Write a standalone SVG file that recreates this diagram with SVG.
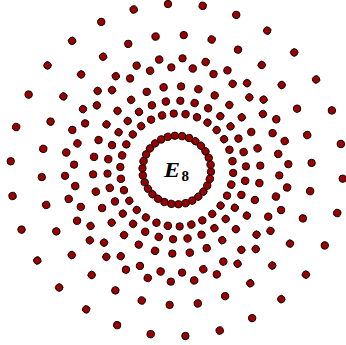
<svg xmlns="http://www.w3.org/2000/svg" width="346" height="345" viewBox="0 0 346 345">
<style>
.d circle{fill:#990000;stroke:#000;stroke-width:0.9}
.lbl{font-family:"Liberation Serif","DejaVu Serif",serif;fill:#000}
</style>
<rect width="346" height="345" fill="#fff"/>
<g class="d" transform="translate(176.7 170)">
<g id="ring1">
<circle cx="34.3" cy="0" r="3.7" transform="rotate(3)"/><circle cx="34.3" cy="0" r="3.7" transform="rotate(15)"/><circle cx="34.3" cy="0" r="3.7" transform="rotate(27)"/><circle cx="34.3" cy="0" r="3.7" transform="rotate(39)"/><circle cx="34.3" cy="0" r="3.7" transform="rotate(51)"/><circle cx="34.3" cy="0" r="3.7" transform="rotate(63)"/><circle cx="34.3" cy="0" r="3.7" transform="rotate(75)"/><circle cx="34.3" cy="0" r="3.7" transform="rotate(87)"/><circle cx="34.3" cy="0" r="3.7" transform="rotate(99)"/><circle cx="34.3" cy="0" r="3.7" transform="rotate(111)"/><circle cx="34.3" cy="0" r="3.7" transform="rotate(123)"/><circle cx="34.3" cy="0" r="3.7" transform="rotate(135)"/><circle cx="34.3" cy="0" r="3.7" transform="rotate(147)"/><circle cx="34.3" cy="0" r="3.7" transform="rotate(159)"/><circle cx="34.3" cy="0" r="3.7" transform="rotate(171)"/><circle cx="34.3" cy="0" r="3.7" transform="rotate(183)"/><circle cx="34.3" cy="0" r="3.7" transform="rotate(195)"/><circle cx="34.3" cy="0" r="3.7" transform="rotate(207)"/><circle cx="34.3" cy="0" r="3.7" transform="rotate(219)"/><circle cx="34.3" cy="0" r="3.7" transform="rotate(231)"/><circle cx="34.3" cy="0" r="3.7" transform="rotate(243)"/><circle cx="34.3" cy="0" r="3.7" transform="rotate(255)"/><circle cx="34.3" cy="0" r="3.7" transform="rotate(267)"/><circle cx="34.3" cy="0" r="3.7" transform="rotate(279)"/><circle cx="34.3" cy="0" r="3.7" transform="rotate(291)"/><circle cx="34.3" cy="0" r="3.7" transform="rotate(303)"/><circle cx="34.3" cy="0" r="3.7" transform="rotate(315)"/><circle cx="34.3" cy="0" r="3.7" transform="rotate(327)"/><circle cx="34.3" cy="0" r="3.7" transform="rotate(339)"/><circle cx="34.3" cy="0" r="3.7" transform="rotate(351)"/>
</g>
<g id="ring2">
<circle cx="56.5" cy="0" r="3.7" transform="rotate(3)"/><circle cx="56.5" cy="0" r="3.7" transform="rotate(15)"/><circle cx="56.5" cy="0" r="3.7" transform="rotate(27)"/><circle cx="56.5" cy="0" r="3.7" transform="rotate(39)"/><circle cx="56.5" cy="0" r="3.7" transform="rotate(51)"/><circle cx="56.5" cy="0" r="3.7" transform="rotate(63)"/><circle cx="56.5" cy="0" r="3.7" transform="rotate(75)"/><circle cx="56.5" cy="0" r="3.7" transform="rotate(87)"/><circle cx="56.5" cy="0" r="3.7" transform="rotate(99)"/><circle cx="56.5" cy="0" r="3.7" transform="rotate(111)"/><circle cx="56.5" cy="0" r="3.7" transform="rotate(123)"/><circle cx="56.5" cy="0" r="3.7" transform="rotate(135)"/><circle cx="56.5" cy="0" r="3.7" transform="rotate(147)"/><circle cx="56.5" cy="0" r="3.7" transform="rotate(159)"/><circle cx="56.5" cy="0" r="3.7" transform="rotate(171)"/><circle cx="56.5" cy="0" r="3.7" transform="rotate(183)"/><circle cx="56.5" cy="0" r="3.7" transform="rotate(195)"/><circle cx="56.5" cy="0" r="3.7" transform="rotate(207)"/><circle cx="56.5" cy="0" r="3.7" transform="rotate(219)"/><circle cx="56.5" cy="0" r="3.7" transform="rotate(231)"/><circle cx="56.5" cy="0" r="3.7" transform="rotate(243)"/><circle cx="56.5" cy="0" r="3.7" transform="rotate(255)"/><circle cx="56.5" cy="0" r="3.7" transform="rotate(267)"/><circle cx="56.5" cy="0" r="3.7" transform="rotate(279)"/><circle cx="56.5" cy="0" r="3.7" transform="rotate(291)"/><circle cx="56.5" cy="0" r="3.7" transform="rotate(303)"/><circle cx="56.5" cy="0" r="3.7" transform="rotate(315)"/><circle cx="56.5" cy="0" r="3.7" transform="rotate(327)"/><circle cx="56.5" cy="0" r="3.7" transform="rotate(339)"/><circle cx="56.5" cy="0" r="3.7" transform="rotate(351)"/>
</g>
<g id="ring3">
<circle cx="69.3" cy="0" r="3.7" transform="rotate(9)"/><circle cx="69.3" cy="0" r="3.7" transform="rotate(21)"/><circle cx="69.3" cy="0" r="3.7" transform="rotate(33)"/><circle cx="69.3" cy="0" r="3.7" transform="rotate(45)"/><circle cx="69.3" cy="0" r="3.7" transform="rotate(57)"/><circle cx="69.3" cy="0" r="3.7" transform="rotate(69)"/><circle cx="69.3" cy="0" r="3.7" transform="rotate(81)"/><circle cx="69.3" cy="0" r="3.7" transform="rotate(93)"/><circle cx="69.3" cy="0" r="3.7" transform="rotate(105)"/><circle cx="69.3" cy="0" r="3.7" transform="rotate(117)"/><circle cx="69.3" cy="0" r="3.7" transform="rotate(129)"/><circle cx="69.3" cy="0" r="3.7" transform="rotate(141)"/><circle cx="69.3" cy="0" r="3.7" transform="rotate(153)"/><circle cx="69.3" cy="0" r="3.7" transform="rotate(165)"/><circle cx="69.3" cy="0" r="3.7" transform="rotate(177)"/><circle cx="69.3" cy="0" r="3.7" transform="rotate(189)"/><circle cx="69.3" cy="0" r="3.7" transform="rotate(201)"/><circle cx="69.3" cy="0" r="3.7" transform="rotate(213)"/><circle cx="69.3" cy="0" r="3.7" transform="rotate(225)"/><circle cx="69.3" cy="0" r="3.7" transform="rotate(237)"/><circle cx="69.3" cy="0" r="3.7" transform="rotate(249)"/><circle cx="69.3" cy="0" r="3.7" transform="rotate(261)"/><circle cx="69.3" cy="0" r="3.7" transform="rotate(273)"/><circle cx="69.3" cy="0" r="3.7" transform="rotate(285)"/><circle cx="69.3" cy="0" r="3.7" transform="rotate(297)"/><circle cx="69.3" cy="0" r="3.7" transform="rotate(309)"/><circle cx="69.3" cy="0" r="3.7" transform="rotate(321)"/><circle cx="69.3" cy="0" r="3.7" transform="rotate(333)"/><circle cx="69.3" cy="0" r="3.7" transform="rotate(345)"/><circle cx="69.3" cy="0" r="3.7" transform="rotate(357)"/>
</g>
<g id="ring4">
<circle cx="83.7" cy="0" r="3.7" transform="rotate(9)"/><circle cx="83.7" cy="0" r="3.7" transform="rotate(21)"/><circle cx="83.7" cy="0" r="3.7" transform="rotate(33)"/><circle cx="83.7" cy="0" r="3.7" transform="rotate(45)"/><circle cx="83.7" cy="0" r="3.7" transform="rotate(57)"/><circle cx="83.7" cy="0" r="3.7" transform="rotate(69)"/><circle cx="83.7" cy="0" r="3.7" transform="rotate(81)"/><circle cx="83.7" cy="0" r="3.7" transform="rotate(93)"/><circle cx="83.7" cy="0" r="3.7" transform="rotate(105)"/><circle cx="83.7" cy="0" r="3.7" transform="rotate(117)"/><circle cx="83.7" cy="0" r="3.7" transform="rotate(129)"/><circle cx="83.7" cy="0" r="3.7" transform="rotate(141)"/><circle cx="83.7" cy="0" r="3.7" transform="rotate(153)"/><circle cx="83.7" cy="0" r="3.7" transform="rotate(165)"/><circle cx="83.7" cy="0" r="3.7" transform="rotate(177)"/><circle cx="83.7" cy="0" r="3.7" transform="rotate(189)"/><circle cx="83.7" cy="0" r="3.7" transform="rotate(201)"/><circle cx="83.7" cy="0" r="3.7" transform="rotate(213)"/><circle cx="83.7" cy="0" r="3.7" transform="rotate(225)"/><circle cx="83.7" cy="0" r="3.7" transform="rotate(237)"/><circle cx="83.7" cy="0" r="3.7" transform="rotate(249)"/><circle cx="83.7" cy="0" r="3.7" transform="rotate(261)"/><circle cx="83.7" cy="0" r="3.7" transform="rotate(273)"/><circle cx="83.7" cy="0" r="3.7" transform="rotate(285)"/><circle cx="83.7" cy="0" r="3.7" transform="rotate(297)"/><circle cx="83.7" cy="0" r="3.7" transform="rotate(309)"/><circle cx="83.7" cy="0" r="3.7" transform="rotate(321)"/><circle cx="83.7" cy="0" r="3.7" transform="rotate(333)"/><circle cx="83.7" cy="0" r="3.7" transform="rotate(345)"/><circle cx="83.7" cy="0" r="3.7" transform="rotate(357)"/>
</g>
<g id="ring5">
<circle cx="102.75" cy="0" r="3.7" transform="rotate(3)"/><circle cx="102.75" cy="0" r="3.7" transform="rotate(15)"/><circle cx="102.75" cy="0" r="3.7" transform="rotate(27)"/><circle cx="102.75" cy="0" r="3.7" transform="rotate(39)"/><circle cx="102.75" cy="0" r="3.7" transform="rotate(51)"/><circle cx="102.75" cy="0" r="3.7" transform="rotate(63)"/><circle cx="102.75" cy="0" r="3.7" transform="rotate(75)"/><circle cx="102.75" cy="0" r="3.7" transform="rotate(87)"/><circle cx="102.75" cy="0" r="3.7" transform="rotate(99)"/><circle cx="102.75" cy="0" r="3.7" transform="rotate(111)"/><circle cx="102.75" cy="0" r="3.7" transform="rotate(123)"/><circle cx="102.75" cy="0" r="3.7" transform="rotate(135)"/><circle cx="102.75" cy="0" r="3.7" transform="rotate(147)"/><circle cx="102.75" cy="0" r="3.7" transform="rotate(159)"/><circle cx="102.75" cy="0" r="3.7" transform="rotate(171)"/><circle cx="102.75" cy="0" r="3.7" transform="rotate(183)"/><circle cx="102.75" cy="0" r="3.7" transform="rotate(195)"/><circle cx="102.75" cy="0" r="3.7" transform="rotate(207)"/><circle cx="102.75" cy="0" r="3.7" transform="rotate(219)"/><circle cx="102.75" cy="0" r="3.7" transform="rotate(231)"/><circle cx="102.75" cy="0" r="3.7" transform="rotate(243)"/><circle cx="102.75" cy="0" r="3.7" transform="rotate(255)"/><circle cx="102.75" cy="0" r="3.7" transform="rotate(267)"/><circle cx="102.75" cy="0" r="3.7" transform="rotate(279)"/><circle cx="102.75" cy="0" r="3.7" transform="rotate(291)"/><circle cx="102.75" cy="0" r="3.7" transform="rotate(303)"/><circle cx="102.75" cy="0" r="3.7" transform="rotate(315)"/><circle cx="102.75" cy="0" r="3.7" transform="rotate(327)"/><circle cx="102.75" cy="0" r="3.7" transform="rotate(339)"/><circle cx="102.75" cy="0" r="3.7" transform="rotate(351)"/>
</g>
<g id="ring6">
<circle cx="111.8" cy="0" r="3.7" transform="rotate(9)"/><circle cx="111.8" cy="0" r="3.7" transform="rotate(21)"/><circle cx="111.8" cy="0" r="3.7" transform="rotate(33)"/><circle cx="111.8" cy="0" r="3.7" transform="rotate(45)"/><circle cx="111.8" cy="0" r="3.7" transform="rotate(57)"/><circle cx="111.8" cy="0" r="3.7" transform="rotate(69)"/><circle cx="111.8" cy="0" r="3.7" transform="rotate(81)"/><circle cx="111.8" cy="0" r="3.7" transform="rotate(93)"/><circle cx="111.8" cy="0" r="3.7" transform="rotate(105)"/><circle cx="111.8" cy="0" r="3.7" transform="rotate(117)"/><circle cx="111.8" cy="0" r="3.7" transform="rotate(129)"/><circle cx="111.8" cy="0" r="3.7" transform="rotate(141)"/><circle cx="111.8" cy="0" r="3.7" transform="rotate(153)"/><circle cx="111.8" cy="0" r="3.7" transform="rotate(165)"/><circle cx="111.8" cy="0" r="3.7" transform="rotate(177)"/><circle cx="111.8" cy="0" r="3.7" transform="rotate(189)"/><circle cx="111.8" cy="0" r="3.7" transform="rotate(201)"/><circle cx="111.8" cy="0" r="3.7" transform="rotate(213)"/><circle cx="111.8" cy="0" r="3.7" transform="rotate(225)"/><circle cx="111.8" cy="0" r="3.7" transform="rotate(237)"/><circle cx="111.8" cy="0" r="3.7" transform="rotate(249)"/><circle cx="111.8" cy="0" r="3.7" transform="rotate(261)"/><circle cx="111.8" cy="0" r="3.7" transform="rotate(273)"/><circle cx="111.8" cy="0" r="3.7" transform="rotate(285)"/><circle cx="111.8" cy="0" r="3.7" transform="rotate(297)"/><circle cx="111.8" cy="0" r="3.7" transform="rotate(309)"/><circle cx="111.8" cy="0" r="3.7" transform="rotate(321)"/><circle cx="111.8" cy="0" r="3.7" transform="rotate(333)"/><circle cx="111.8" cy="0" r="3.7" transform="rotate(345)"/><circle cx="111.8" cy="0" r="3.7" transform="rotate(357)"/>
</g>
<g id="ring7">
<circle cx="135.1" cy="0" r="3.7" transform="rotate(9)"/><circle cx="135.1" cy="0" r="3.7" transform="rotate(21)"/><circle cx="135.1" cy="0" r="3.7" transform="rotate(33)"/><circle cx="135.1" cy="0" r="3.7" transform="rotate(45)"/><circle cx="135.1" cy="0" r="3.7" transform="rotate(57)"/><circle cx="135.1" cy="0" r="3.7" transform="rotate(69)"/><circle cx="135.1" cy="0" r="3.7" transform="rotate(81)"/><circle cx="135.1" cy="0" r="3.7" transform="rotate(93)"/><circle cx="135.1" cy="0" r="3.7" transform="rotate(105)"/><circle cx="135.1" cy="0" r="3.7" transform="rotate(117)"/><circle cx="135.1" cy="0" r="3.7" transform="rotate(129)"/><circle cx="135.1" cy="0" r="3.7" transform="rotate(141)"/><circle cx="135.1" cy="0" r="3.7" transform="rotate(153)"/><circle cx="135.1" cy="0" r="3.7" transform="rotate(165)"/><circle cx="135.1" cy="0" r="3.7" transform="rotate(177)"/><circle cx="135.1" cy="0" r="3.7" transform="rotate(189)"/><circle cx="135.1" cy="0" r="3.7" transform="rotate(201)"/><circle cx="135.1" cy="0" r="3.7" transform="rotate(213)"/><circle cx="135.1" cy="0" r="3.7" transform="rotate(225)"/><circle cx="135.1" cy="0" r="3.7" transform="rotate(237)"/><circle cx="135.1" cy="0" r="3.7" transform="rotate(249)"/><circle cx="135.1" cy="0" r="3.7" transform="rotate(261)"/><circle cx="135.1" cy="0" r="3.7" transform="rotate(273)"/><circle cx="135.1" cy="0" r="3.7" transform="rotate(285)"/><circle cx="135.1" cy="0" r="3.7" transform="rotate(297)"/><circle cx="135.1" cy="0" r="3.7" transform="rotate(309)"/><circle cx="135.1" cy="0" r="3.7" transform="rotate(321)"/><circle cx="135.1" cy="0" r="3.7" transform="rotate(333)"/><circle cx="135.1" cy="0" r="3.7" transform="rotate(345)"/><circle cx="135.1" cy="0" r="3.7" transform="rotate(357)"/>
</g>
<g id="ring8">
<circle cx="166.2" cy="0" r="3.7" transform="rotate(3)"/><circle cx="166.2" cy="0" r="3.7" transform="rotate(15)"/><circle cx="166.2" cy="0" r="3.7" transform="rotate(27)"/><circle cx="166.2" cy="0" r="3.7" transform="rotate(39)"/><circle cx="166.2" cy="0" r="3.7" transform="rotate(51)"/><circle cx="166.2" cy="0" r="3.7" transform="rotate(63)"/><circle cx="166.2" cy="0" r="3.7" transform="rotate(75)"/><circle cx="166.2" cy="0" r="3.7" transform="rotate(87)"/><circle cx="166.2" cy="0" r="3.7" transform="rotate(99)"/><circle cx="166.2" cy="0" r="3.7" transform="rotate(111)"/><circle cx="166.2" cy="0" r="3.7" transform="rotate(123)"/><circle cx="166.2" cy="0" r="3.7" transform="rotate(135)"/><circle cx="166.2" cy="0" r="3.7" transform="rotate(147)"/><circle cx="166.2" cy="0" r="3.7" transform="rotate(159)"/><circle cx="166.2" cy="0" r="3.7" transform="rotate(171)"/><circle cx="166.2" cy="0" r="3.7" transform="rotate(183)"/><circle cx="166.2" cy="0" r="3.7" transform="rotate(195)"/><circle cx="166.2" cy="0" r="3.7" transform="rotate(207)"/><circle cx="166.2" cy="0" r="3.7" transform="rotate(219)"/><circle cx="166.2" cy="0" r="3.7" transform="rotate(231)"/><circle cx="166.2" cy="0" r="3.7" transform="rotate(243)"/><circle cx="166.2" cy="0" r="3.7" transform="rotate(255)"/><circle cx="166.2" cy="0" r="3.7" transform="rotate(267)"/><circle cx="166.2" cy="0" r="3.7" transform="rotate(279)"/><circle cx="166.2" cy="0" r="3.7" transform="rotate(291)"/><circle cx="166.2" cy="0" r="3.7" transform="rotate(303)"/><circle cx="166.2" cy="0" r="3.7" transform="rotate(315)"/><circle cx="166.2" cy="0" r="3.7" transform="rotate(327)"/><circle cx="166.2" cy="0" r="3.7" transform="rotate(339)"/><circle cx="166.2" cy="0" r="3.7" transform="rotate(351)"/>
</g>
</g>
<g id="label">
<text class="lbl" x="164" y="176.7" font-size="22" font-style="italic" font-weight="bold" textLength="16" lengthAdjust="spacingAndGlyphs">E</text>
<text class="lbl" x="181.5" y="181" font-size="15" font-weight="bold">8</text>
</g>
</svg>
